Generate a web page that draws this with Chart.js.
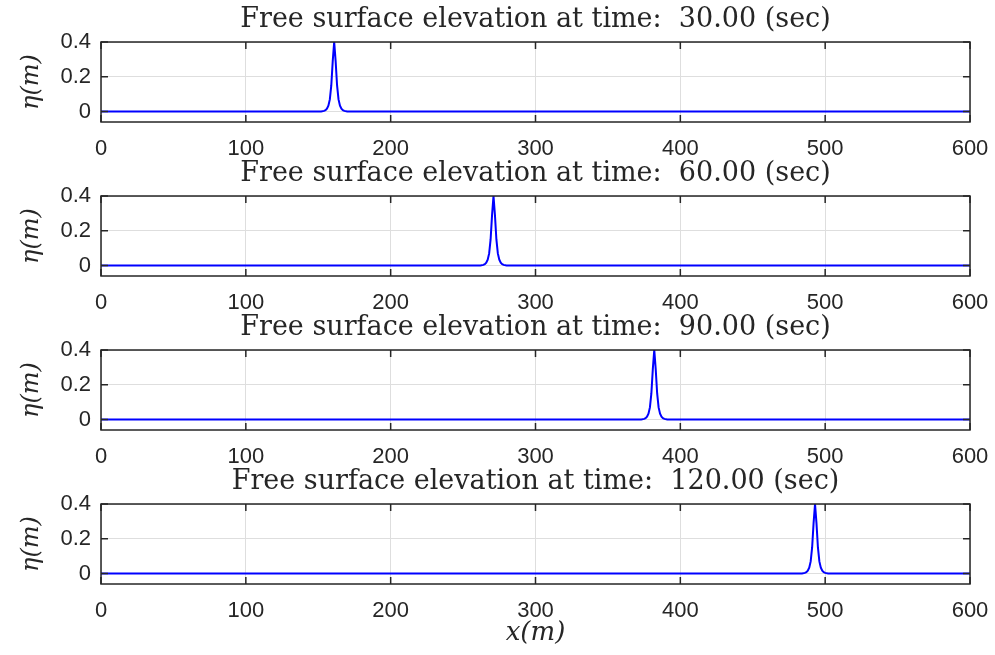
<!DOCTYPE html>
<html>
<head>
<meta charset="utf-8">
<script src="https://cdn.jsdelivr.net/npm/chart.js@4.4.1/dist/chart.umd.min.js"></script>
<style>
  html, body { margin: 0; padding: 0; background: #fff; }
  #wrap { position: relative; width: 995px; height: 655px; overflow: hidden; }
  canvas { position: absolute; left: 0; }
</style>
</head>
<body>
<div id="wrap">
  <canvas id="c1" width="995" height="156" style="top:0px"></canvas>
  <canvas id="c2" width="995" height="156" style="top:154px"></canvas>
  <canvas id="c3" width="995" height="156" style="top:308px"></canvas>
  <canvas id="c4" width="995" height="192" style="top:462px"></canvas>
</div>
<script>
// snapshot times (sec)
const times = ['30.00', '60.00', '90.00', '120.00'];

// x positions (m) and free surface elevation (m) for each snapshot
const x30 = [0, 150, 152, 154, 155, 156, 157, 158, 159, 160, 161, 162, 163, 164, 165, 166, 167, 168, 170, 172, 600];
const eta30 = [0, 0, 0.001, 0.004, 0.008, 0.016, 0.034, 0.07, 0.15, 0.29, 0.40, 0.29, 0.15, 0.07, 0.034, 0.016, 0.008, 0.004, 0.001, 0, 0];

const x60 = [0, 260, 262, 264, 265, 266, 267, 268, 269, 270, 271, 272, 273, 274, 275, 276, 277, 278, 280, 282, 600];
const eta60 = [0, 0, 0.001, 0.004, 0.008, 0.016, 0.034, 0.07, 0.15, 0.29, 0.40, 0.29, 0.15, 0.07, 0.034, 0.016, 0.008, 0.004, 0.001, 0, 0];

const x90 = [0, 371, 373, 375, 376, 377, 378, 379, 380, 381, 382, 383, 384, 385, 386, 387, 388, 389, 391, 393, 600];
const eta90 = [0, 0, 0.001, 0.004, 0.008, 0.016, 0.034, 0.07, 0.15, 0.29, 0.40, 0.29, 0.15, 0.07, 0.034, 0.016, 0.008, 0.004, 0.001, 0, 0];

const x120 = [0, 482, 484, 486, 487, 488, 489, 490, 491, 492, 493, 494, 495, 496, 497, 498, 499, 500, 502, 504, 600];
const eta120 = [0, 0, 0.001, 0.004, 0.008, 0.016, 0.034, 0.07, 0.15, 0.29, 0.40, 0.29, 0.15, 0.07, 0.034, 0.016, 0.008, 0.004, 0.001, 0, 0];

// axis ticks
const xTicks = [0, 100, 200, 300, 400, 500, 600];
const yTicks = [0, 0.2, 0.4];

const panels = [
  { id: 'c1', xs: x30, ys: eta30, time: times[0] },
  { id: 'c2', xs: x60, ys: eta60, time: times[1] },
  { id: 'c3', xs: x90, ys: eta90, time: times[2] },
  { id: 'c4', xs: x120, ys: eta120, time: times[3] },
];

const axisColor = '#262626';
const gridColor = '#dedede';
const tickFont = { family: "'Liberation Sans', Arial, sans-serif", size: 22 };
const serif = "'DejaVu Serif', 'Liberation Serif', serif";

// MATLAB style box with inward ticks
const boxPlugin = {
  id: 'box',
  afterDraw(chart) {
    const { ctx, chartArea: a, scales } = chart;
    ctx.save();
    ctx.strokeStyle = axisColor;
    ctx.lineWidth = 1.5;
    ctx.beginPath();
    scales.x.ticks.forEach(t => {
      const px = scales.x.getPixelForValue(t.value);
      ctx.moveTo(px, a.top); ctx.lineTo(px, a.top + 7);
      ctx.moveTo(px, a.bottom); ctx.lineTo(px, a.bottom - 7);
    });
    scales.y.ticks.forEach(t => {
      const py = scales.y.getPixelForValue(t.value);
      ctx.moveTo(a.left, py); ctx.lineTo(a.left + 7, py);
      ctx.moveTo(a.right, py); ctx.lineTo(a.right - 7, py);
    });
    ctx.stroke();
    ctx.strokeRect(a.left, a.top, a.right - a.left, a.bottom - a.top);
    ctx.restore();
  },
};

panels.forEach((p, i) => {
  const last = i === panels.length - 1;
  new Chart(document.getElementById(p.id), {
    type: 'line',
    data: {
      datasets: [{
        data: p.xs.map((x, k) => ({ x, y: p.ys[k] })),
        borderColor: '#0000ff',
        borderWidth: 2,
        pointRadius: 0,
        tension: 0,
        fill: false,
      }],
    },
    options: {
      responsive: false,
      maintainAspectRatio: false,
      animation: false,
      layout: { padding: { left: 0, right: 25, top: 0, bottom: 0 } },
      plugins: {
        legend: { display: false },
        tooltip: { enabled: false },
        title: {
          display: true,
          fullSize: false,
          text: 'Free surface elevation at time:  ' + p.time + ' (sec)',
          color: axisColor,
          font: { family: serif, size: 27, weight: 'normal', lineHeight: 1 },
          padding: { top: 6, bottom: 9 },
        },
      },
      scales: {
        x: {
          type: 'linear',
          min: 0,
          max: 600,
          afterBuildTicks: s => { s.ticks = xTicks.map(v => ({ value: v })); },
          afterFit: s => {
            s.height = last ? 70 : 34;
            s.paddingLeft = 0;
            s.paddingRight = 0;
          },
          grid: { color: gridColor, lineWidth: 1, drawTicks: false },
          border: { display: false },
          ticks: { color: axisColor, font: tickFont, padding: 14, maxRotation: 0 },
          title: {
            display: last,
            text: 'x(m)',
            color: axisColor,
            font: { family: serif, size: 26, style: 'italic', lineHeight: 1.2 },
            padding: { top: 0, bottom: 5 },
          },
        },
        y: {
          min: -0.06,
          max: 0.4,
          afterBuildTicks: s => { s.ticks = yTicks.map(v => ({ value: v })); },
          afterFit: s => { s.width = 101; },
          grid: { color: gridColor, lineWidth: 1, drawTicks: false },
          border: { display: false },
          ticks: { color: axisColor, font: tickFont, padding: 10 },
          title: {
            display: true,
            text: 'η(m)',
            color: axisColor,
            font: { family: serif, size: 24, style: 'italic', lineHeight: 1.2 },
            padding: { top: 17, bottom: 0 },
          },
        },
      },
    },
    plugins: [boxPlugin],
  });
});
</script>
</body>
</html>
